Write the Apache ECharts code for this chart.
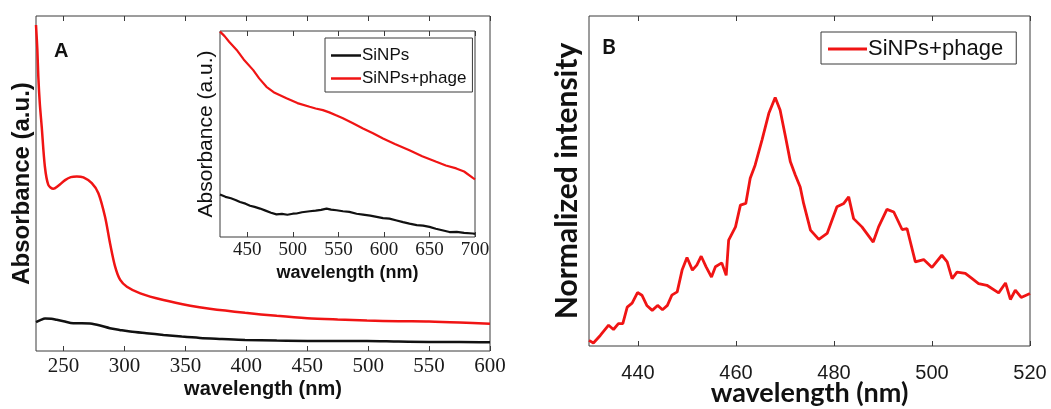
<!DOCTYPE html>
<html>
<head>
<meta charset="utf-8">
<style>
  html, body { margin: 0; padding: 0; background: #ffffff; }
  #chart { width: 1051px; height: 409px; }
</style>
<script src="https://cdn.jsdelivr.net/npm/echarts@6.0.0/dist/echarts.min.js"></script>
</head>
<body>
<div id="chart"></div>
<script>
// Panel A: UV-vis absorbance, [wavelength nm, absorbance a.u.]
const absSiNPs = [
  [227.4, 0.086], [231, 0.092], [234.8, 0.097], [240, 0.096], [244.4, 0.093], [250, 0.089],
  [258, 0.083], [265, 0.083], [271.8, 0.082], [280, 0.076], [288, 0.068], [296, 0.063],
  [304.7, 0.058], [318, 0.053], [332, 0.048], [347, 0.043], [362, 0.039], [380, 0.036],
  [399, 0.033], [425, 0.031], [450, 0.030], [475, 0.030], [499, 0.030], [525, 0.028],
  [550, 0.027], [575, 0.027], [600, 0.026]
];
const absSiNPsPhage = [
  [227.4, 0.973], [228.5, 0.90], [229.3, 0.819], [230.5, 0.74], [232.1, 0.669], [234.7, 0.550],
  [237.5, 0.496], [241.6, 0.484], [245.7, 0.493], [251.3, 0.510], [256, 0.519], [260.9, 0.521],
  [266.3, 0.518], [273.2, 0.501], [278.6, 0.471], [284.1, 0.400], [288.2, 0.321], [292.4, 0.251],
  [296.5, 0.212], [302, 0.192], [313, 0.172], [332, 0.152], [354, 0.135], [370, 0.126],
  [399, 0.114], [425, 0.105], [450, 0.098], [475, 0.094], [499, 0.091], [525, 0.089],
  [550, 0.088], [575, 0.085], [600, 0.081]
];

// Inset of panel A: 420-700 nm detail
const insetSiNPs = [
  [420, 0.206], [426, 0.195], [432, 0.188], [437, 0.180], [442, 0.170], [448, 0.162],
  [453, 0.152], [458, 0.146], [464, 0.138], [470, 0.128], [476, 0.118], [482, 0.110],
  [488, 0.112], [494, 0.108], [500, 0.113], [504, 0.114], [510, 0.120], [518.6, 0.125],
  [525, 0.128], [531, 0.132], [537, 0.138], [542, 0.133], [548, 0.130], [555, 0.125],
  [562, 0.122], [570, 0.113], [577, 0.109], [585, 0.104], [592, 0.098], [599, 0.092],
  [606, 0.089], [614, 0.080], [621, 0.072], [628, 0.065], [636, 0.058], [643, 0.055],
  [650, 0.049], [657, 0.040], [664, 0.033], [672, 0.024], [680, 0.025], [688, 0.020],
  [697.6, 0.017], [700, 0.015]
];
const insetSiNPsPhage = [
  [420, 0.997], [425, 0.975], [430, 0.948], [438.3, 0.908], [446, 0.862], [456.5, 0.810],
  [463, 0.770], [471, 0.729], [480, 0.700], [493, 0.673], [505, 0.650], [518.4, 0.632],
  [525, 0.624], [533, 0.616], [540, 0.605], [548, 0.590], [555, 0.576], [566, 0.552],
  [577, 0.527], [588, 0.504], [599, 0.478], [612, 0.452], [628, 0.421], [642, 0.392],
  [657.5, 0.365], [668, 0.347], [679.4, 0.333], [688, 0.318], [697.6, 0.287], [700, 0.280]
];

// Panel B: photoluminescence, [wavelength nm, normalized intensity]
const plSiNPsPhage = [
  [430, 0.017], [430.9, 0.009], [432.3, 0.032], [434, 0.063], [435, 0.050], [436, 0.068],
  [436.9, 0.068], [437.8, 0.118], [438.8, 0.130], [439.9, 0.162], [440.8, 0.154], [441.8, 0.123],
  [442.9, 0.108], [444, 0.123], [445, 0.110], [446, 0.123], [446.9, 0.154], [448, 0.164],
  [449, 0.230], [450, 0.268], [451.1, 0.230], [452, 0.245], [452.9, 0.272], [453.9, 0.240],
  [455, 0.209], [455.8, 0.240], [457.1, 0.252], [458, 0.214], [458.5, 0.321], [459.9, 0.361],
  [460.9, 0.427], [462, 0.432], [462.9, 0.508], [463.9, 0.548], [465.3, 0.624], [466.7, 0.705],
  [468, 0.753], [469, 0.715], [470.1, 0.634], [471.1, 0.558], [472.1, 0.518], [473.1, 0.482],
  [473.8, 0.432], [475.2, 0.351], [476.9, 0.323], [478.6, 0.341], [480.6, 0.422], [482, 0.432],
  [483, 0.452], [484, 0.386], [485.7, 0.361], [488, 0.315], [489.1, 0.361], [490.8, 0.414],
  [492.2, 0.406], [493.9, 0.353], [494.9, 0.356], [496.6, 0.255], [498.3, 0.262], [500, 0.238],
  [502, 0.275], [503.1, 0.255], [504.1, 0.204], [505.1, 0.224], [506.8, 0.220], [508.2, 0.204],
  [509.5, 0.189], [511.2, 0.184], [513.6, 0.161], [515, 0.191], [516, 0.141], [517, 0.169],
  [518.2, 0.147], [520, 0.159]
];

// Tick positions
const ticksA = [250, 300, 350, 400, 450, 500, 550, 600];
const ticksInset = [450, 500, 550, 600, 650, 700];
const ticksB = [440, 460, 480, 500, 520];

const RED = '#f01414';
const BLACK = '#111111';
const AXIS = '#3a3a3a';

function bottomAxis(gridIndex, min, max, ticks, labelStyle, name, nameStyle, nameGap, labelMargin) {
  return {
    type: 'value', gridIndex, position: 'bottom', min, max,
    axisLine: { show: false },
    splitLine: { show: false },
    axisTick: { show: true, inside: true, length: 5, customValues: ticks, lineStyle: { color: AXIS, width: 1 } },
    axisLabel: Object.assign({ show: true, customValues: ticks, margin: labelMargin, color: '#1a1a1a' }, labelStyle),
    name, nameLocation: 'middle', nameGap, nameMoveOverlap: false, nameTextStyle: nameStyle
  };
}
function topAxis(gridIndex, min, max, ticks) {
  return {
    type: 'value', gridIndex, position: 'top', min, max,
    axisLine: { show: false }, splitLine: { show: false }, axisLabel: { show: false },
    axisTick: { show: true, inside: true, length: 5, customValues: ticks, lineStyle: { color: AXIS, width: 1 } }
  };
}
function leftAxis(gridIndex, name, nameStyle, nameGap) {
  return {
    type: 'value', gridIndex, min: 0, max: 1,
    axisLine: { show: false }, axisTick: { show: false }, axisLabel: { show: false }, splitLine: { show: false },
    name, nameLocation: 'middle', nameRotate: 90, nameGap, nameTextStyle: nameStyle
  };
}

const chart = echarts.init(document.getElementById('chart'), null, { renderer: 'canvas' });

const gridBase = { show: true, borderColor: AXIS, borderWidth: 1, containLabel: false, outerBoundsMode: 'none' };

chart.setOption({
  backgroundColor: '#ffffff',
  animation: false,
  title: [
    { text: 'A', left: 49, top: 36, textStyle: { fontFamily: 'Liberation Sans', fontWeight: 'bold', fontSize: 20, color: '#111' } },
    { text: 'B', left: 597, top: 32, textStyle: { fontFamily: 'Lato', fontWeight: 'bold', fontSize: 21, color: '#111' } }
  ],
  grid: [
    Object.assign({ left: 36, top: 16, width: 454, height: 335, backgroundColor: 'transparent' }, gridBase),
    Object.assign({ left: 220, top: 31, width: 255, height: 206, backgroundColor: '#ffffff' }, gridBase),
    Object.assign({ left: 589, top: 16, width: 441, height: 330, backgroundColor: 'transparent' }, gridBase)
  ],
  xAxis: [
    bottomAxis(0, 227.4, 600, ticksA,
      { fontFamily: 'Liberation Sans Narrow', fontSize: 21 },
      'wavelength (nm)', { fontFamily: 'Liberation Sans', fontWeight: 'bold', fontSize: 20, color: '#111' }, 28, 5),
    bottomAxis(1, 420, 700, ticksInset,
      { fontFamily: 'Liberation Sans Narrow', fontSize: 19 },
      'wavelength (nm)', { fontFamily: 'Liberation Sans', fontWeight: 'bold', fontSize: 18, color: '#111' }, 27, 4),
    bottomAxis(2, 430, 520, ticksB,
      { fontFamily: 'Liberation Sans', fontSize: 20 },
      'wavelength (nm)', { fontFamily: 'Lato', fontWeight: 'bold', fontSize: 27, color: '#111' }, 34, 17),
    topAxis(0, 227.4, 600, ticksA),
    topAxis(1, 420, 700, ticksInset),
    topAxis(2, 430, 520, ticksB)
  ],
  yAxis: [
    leftAxis(0, 'Absorbance (a.u.)', { fontFamily: 'Liberation Sans', fontWeight: 'bold', fontSize: 24, color: '#111' }, 2),
    leftAxis(1, 'Absorbance (a.u.)', { fontFamily: 'Liberation Sans', fontSize: 21, color: '#111' }, 3),
    leftAxis(2, 'Normalized intensity', { fontFamily: 'Lato', fontWeight: 'bold', fontSize: 30, color: '#111' }, 7)
  ],
  legend: [
    {
      data: ['SiNPs', 'SiNPs+phage'], orient: 'vertical', left: 325, top: 38, width: 146,
      icon: 'rect', padding: [9, 6, 5, 6], itemGap: 6, itemWidth: 30, itemHeight: 2.5,
      backgroundColor: '#ffffff', borderColor: AXIS, borderWidth: 1, borderRadius: 0,
      textStyle: { fontFamily: 'Liberation Sans', fontSize: 17, color: '#111', padding: [0, 0, 0, -4], lineHeight: 13 },
      selectedMode: false
    },
    {
      data: ['SiNPs+phage '], orient: 'vertical', left: 821, top: 32,
      icon: 'rect', padding: [6, 7, 4, 7], itemWidth: 39, itemHeight: 3,
      backgroundColor: '#ffffff', borderColor: AXIS, borderWidth: 1, borderRadius: 0,
      textStyle: { fontFamily: 'Liberation Sans', fontSize: 22, color: '#111', padding: [0, 0, 0, -4], lineHeight: 16 },
      selectedMode: false
    }
  ],
  series: [
    { name: 'SiNPs', type: 'line', xAxisIndex: 0, yAxisIndex: 0, data: absSiNPs, symbol: 'none', smooth: 0.3,
      lineStyle: { color: BLACK, width: 2.5 }, itemStyle: { color: BLACK }, z: 3 },
    { name: 'SiNPs+phage', type: 'line', xAxisIndex: 0, yAxisIndex: 0, data: absSiNPsPhage, symbol: 'none', smooth: 0.3,
      lineStyle: { color: RED, width: 2.5 }, itemStyle: { color: RED }, z: 3 },
    { name: 'SiNPs', type: 'line', xAxisIndex: 1, yAxisIndex: 1, data: insetSiNPs, symbol: 'none',
      lineStyle: { color: BLACK, width: 2.2 }, itemStyle: { color: BLACK }, z: 5 },
    { name: 'SiNPs+phage', type: 'line', xAxisIndex: 1, yAxisIndex: 1, data: insetSiNPsPhage, symbol: 'none',
      lineStyle: { color: RED, width: 2.2 }, itemStyle: { color: RED }, z: 5 },
    { name: 'SiNPs+phage ', type: 'line', xAxisIndex: 2, yAxisIndex: 2, data: plSiNPsPhage, symbol: 'none',
      lineStyle: { color: RED, width: 2.8 }, itemStyle: { color: RED }, z: 3 }
  ]
});
</script>
</body>
</html>
